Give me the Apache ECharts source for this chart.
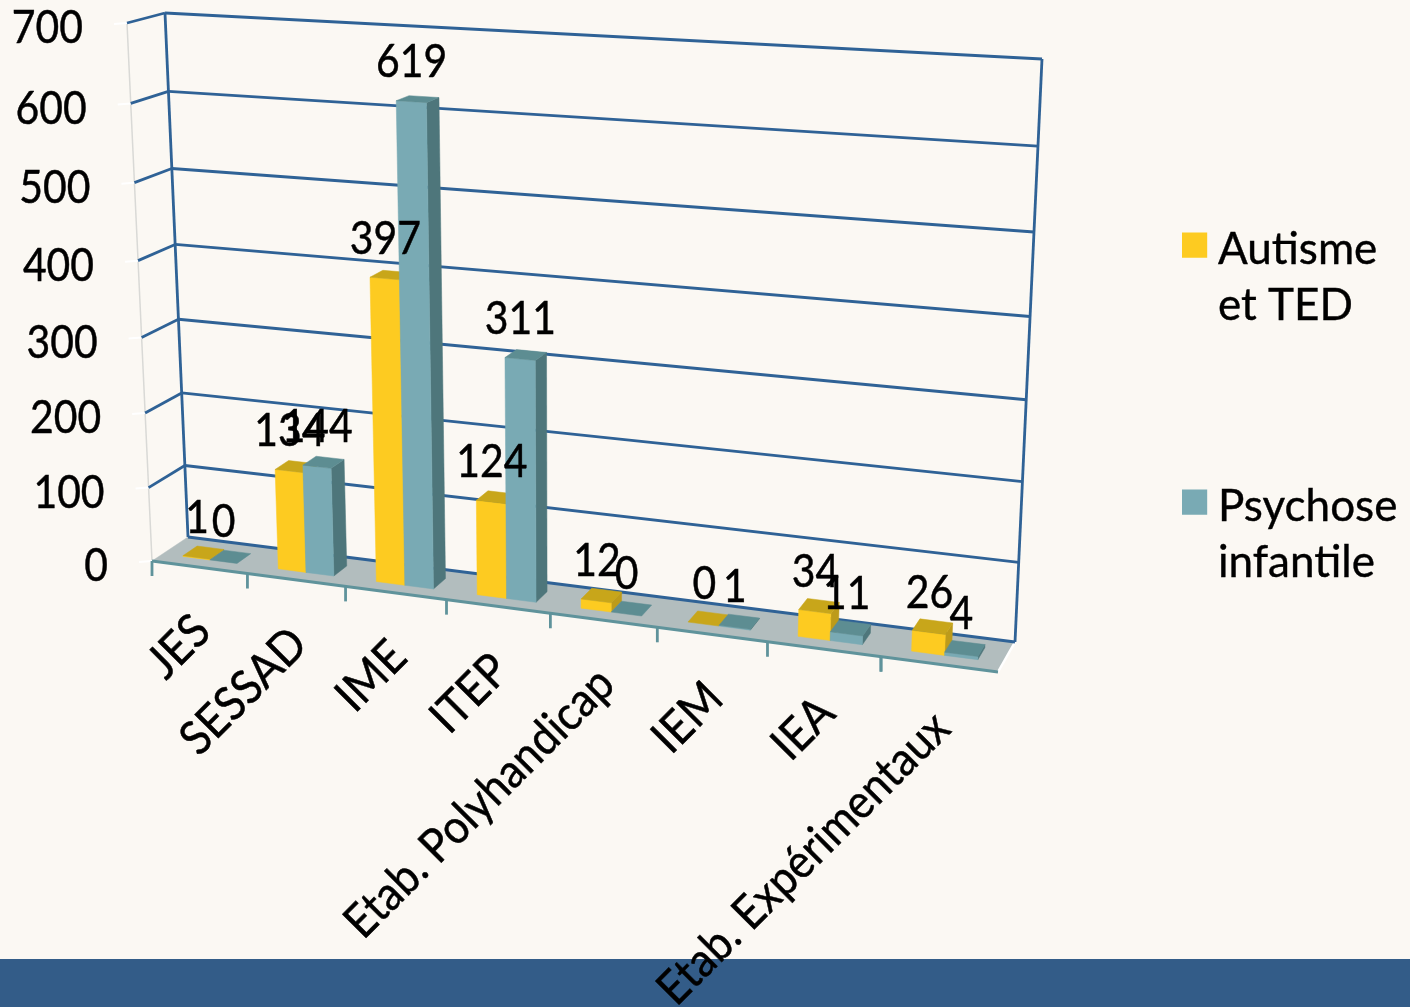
<!DOCTYPE html>
<html>
<head>
<meta charset="utf-8">
<style>html,body{margin:0;padding:0;background:#FBF8F3}#c{width:1410px;height:1007px}</style>
<script src="https://cdn.jsdelivr.net/npm/echarts@6/dist/echarts.min.js"></script>
</head>
<body>
<div id="c"></div>
<script>
const categories = ['JES','SESSAD','IME','ITEP','Etab. Polyhandicap','IEM','IEA','Etab. Expérimentaux'];
const autisme = [1,134,397,124,12,0,34,26];
const psychose = [0,144,619,311,0,1,11,4];
const yTicks = [0,100,200,300,400,500,600,700];
const legendNames = {'Autisme':'Autisme\net TED','Psychose infantile':'Psychose\ninfantile'};

const FONT = '47px Lato';
// Perspective box: [front/back][bottom/top] corners of the chart's 3D frame
const FL0=[152,561],FR0=[998,672],BL0=[188,537],BR0=[1015,642];
const FL1=[127,23],FR1=[1024,72],BL1=[165,13],BR1=[1042,59];
const warp=(t,b)=>t*(1+b)/(1+b*t);
const mix=(a,b,t)=>[a[0]+(b[0]-a[0])*t,a[1]+(b[1]-a[1])*t];
function project(u,v,d){
  const tu=warp(u,-0.11),tv=warp(v,-0.052);
  const f=mix(mix(FL0,FR0,tu),mix(FL1,FR1,tu),tv);
  const b=mix(mix(BL0,BR0,tu),mix(BL1,BR1,tu),tv);
  return mix(f,b,d);
}
// plane coordinates from the hidden grid's own scales
function uv(params,api,cat,val,off){
  const cs=params.coordSys,p=api.coord([cat,val]),band=api.size([1,0])[0];
  return {u:(p[0]-band/2+band*off-cs.x)/cs.width,v:(cs.y+cs.height-p[1])/cs.height};
}
const BLUE='#2F6296',TEAL='#5F939B',FLOOR='#B2BDBE';
const poly=(pts,fill,z)=>({type:'polygon',shape:{points:pts},style:{fill:fill,stroke:fill,lineWidth:0.5},z2:z||0});
const seg=(a,b,stroke,w)=>({type:'line',shape:{x1:a[0],y1:a[1],x2:b[0],y2:b[1]},style:{stroke:stroke,lineWidth:w}});
const txt=(s,x,y,align,rot,sx)=>({type:'text',x:x,y:y,rotation:rot||0,scaleX:sx||0.87,style:{text:s,font:FONT,fill:'#000',stroke:'#000',lineWidth:0.5,align:align,verticalAlign:'middle'}});

function barRender(off0,off1,colors){
  return function(params,api){
    const i=api.value(0),val=api.value(1),D0=0.3,D1=0.7;
    const a=uv(params,api,i,val,off0),b=uv(params,api,i,val,off1),z=uv(params,api,i,0,off0);
    const P=(u,v,d)=>project(u,v,d);
    const ch=[];
    if(val>0){
      ch.push(poly([P(b.u,z.v,D0),P(b.u,z.v,D1),P(b.u,a.v,D1),P(b.u,a.v,D0)],colors.side));
      ch.push(poly([P(a.u,z.v,D0),P(b.u,z.v,D0),P(b.u,a.v,D0),P(a.u,a.v,D0)],colors.front));
    }
    ch.push(poly([P(a.u,a.v,D0),P(b.u,a.v,D0),P(b.u,a.v,D1),P(a.u,a.v,D1)],colors.top));
    return {type:'group',children:ch};
  };
}
const YEL={front:'#FDCB21',top:'#C8A61A',side:'#BD9B1A'};
const TL={front:'#79AAB4',top:'#5D8D92',side:'#4E767B'};

const option={
  animation:false,
  backgroundColor:'#FBF8F3',
  grid:{left:100,top:100,right:100,bottom:100,show:false},
  xAxis:{type:'category',data:categories,show:false},
  yAxis:{type:'value',min:0,max:700,interval:100,show:false},
  legend:{
    orient:'vertical',left:1182,top:222,itemGap:145,itemWidth:31,itemHeight:112,selectedMode:false,
    padding:0,
    data:[
      {name:'Autisme',icon:'path://M0 0L0.01 0L0.01 0.01Z M0 9H26V35H0Z M32 112L31.99 112L31.99 111.99Z'},
      {name:'Psychose infantile',icon:'path://M0 0L0.01 0L0.01 0.01Z M0 9H26V35H0Z M32 112L31.99 112L31.99 111.99Z'}
    ],
    formatter:n=>legendNames[n],
    textStyle:{fontFamily:'Lato',fontSize:44,lineHeight:56,color:'#000',textBorderColor:'#000',textBorderWidth:0.4}
  },
  graphic:{z:-1,elements:[{type:'rect',left:0,top:959,shape:{width:1410,height:48},style:{fill:'#335C88'},silent:true}]},
  series:[
    {name:'frame',type:'custom',z:1,silent:true,clip:false,data:[[0,0]],
      renderItem:()=>({type:'group',children:[
        poly([FL0,FR0,BR0,BL0],FLOOR),
        seg(BL0,BL1,BLUE,2.8),seg(BR0,BR1,BLUE,2.8),
        seg(FL0,FL1,'#D9D9D6',1.5),
        seg(FR0,BR0,'#FFFFFF',2.5),
        seg(FL0,FR0,TEAL,2.8)
      ]})},
    {name:'walls',type:'custom',z:1,silent:true,clip:false,data:yTicks.map(v=>[0,v]),
      renderItem:(params,api)=>{
        const q=uv(params,api,0,api.value(1),0.5);
        const f=project(0,q.v,0),bl=project(0,q.v,1),br=project(1,q.v,1);
        const ch=[seg(bl,br,BLUE,2.8),seg([f[0]-13,f[1]+1],[f[0],f[1]],'#FFFFFF',2),txt(String(api.value(1)),f[0]-44,f[1]+5,'right')];
        if(api.value(1)>0)ch.push(seg(f,bl,BLUE,2.8));
        return {type:'group',children:ch};
      }},
    {name:'ticks',type:'custom',z:1,silent:true,clip:false,data:categories.map((c,i)=>[i,0]).concat([[categories.length-1,0,1]]),
      renderItem:(params,api)=>{
        const q=uv(params,api,api.value(0),0,api.value(2)?1:0);
        const p=project(q.u,0,0);
        return seg(p,[p[0],p[1]+15],TEAL,2.8);
      }},
    {name:'Autisme',type:'custom',z:2,silent:true,clip:false,itemStyle:{color:YEL.front},data:autisme.map((v,i)=>[i,v]),
      renderItem:barRender(0.215,0.5,YEL)},
    {name:'Psychose infantile',type:'custom',z:3,silent:true,clip:false,itemStyle:{color:TL.front},data:psychose.map((v,i)=>[i,v]),
      renderItem:barRender(0.5,0.785,TL)},
    {name:'valeurs',type:'custom',z:5,silent:true,clip:false,
      data:autisme.map((v,i)=>[i,v,0.36]).concat(psychose.map((v,i)=>[i,v,0.64])),
      renderItem:(params,api)=>{
        const q=uv(params,api,api.value(0),api.value(1),api.value(2));
        const p=project(q.u,q.v,0.3);
        return txt(String(api.value(1)),p[0]+0.5,p[1]-40,'center');
      }},
    {name:'categories',type:'custom',z:5,silent:true,clip:false,data:categories.map((c,i)=>[i,0]),
      renderItem:(params,api)=>{
        const i=api.value(0),q=uv(params,api,i,0,0.5),p=project(q.u,0,0);
        return txt(categories[i],p[0]+3,p[1]+56,'right',Math.PI/4,0.92);
      }}
  ]
};
const chart=echarts.init(document.getElementById('c'));
chart.setOption(option);
</script>
</body>
</html>
